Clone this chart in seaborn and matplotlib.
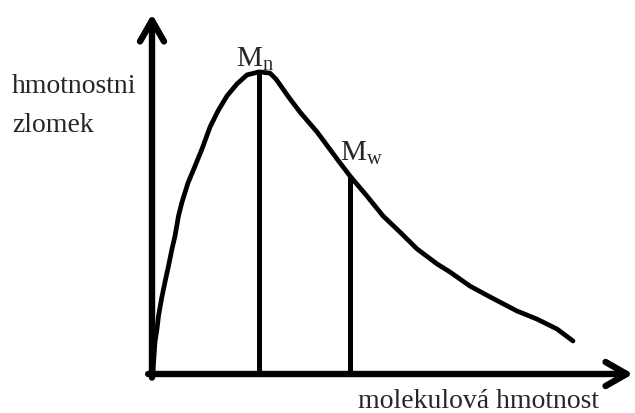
import matplotlib
matplotlib.use("Agg")
import matplotlib.pyplot as plt
import seaborn as sns
import pandas as pd

# Molecular weight distribution (arbitrary units)
mass = [0.2, 0.6, 1.0, 1.3, 1.9, 2.6, 3.3, 4.0, 4.6, 5.3, 6.0, 7.2, 8.6, 10.0,
        11.6, 13.2, 15.0, 17.0, 19.0, 21.4, 23.6, 24.8, 26.2, 27.6, 29.6, 33.0,
        37.0, 39.6, 43.0, 46.2, 49.6, 53.0, 57.0, 59.6, 63.6, 67.6, 73.0, 77.0,
        81.0, 84.2]
fraction = [1.0, 10.7, 15.0, 19.3, 25.0, 30.7, 36.0, 41.7, 46.0, 52.7, 57.3, 63.7,
            69.3, 75.0, 82.3, 87.7, 92.7, 96.7, 99.7, 100.7, 100.3, 98.3, 95.0,
            91.7, 87.3, 80.7, 71.7, 66.0, 59.3, 52.7, 47.3, 41.7, 36.7, 34.0,
            29.3, 25.7, 21.0, 18.3, 15.0, 11.0]

# Number-average and weight-average molecular mass
mn_mass, mn_fraction = 21.4, 100.7
mw_mass, mw_fraction = 39.6, 66.0

y_label = ["hmotnostni", "zlomek"]
x_label = "molekulová hmotnost"

sns.set_style("white")
plt.rcParams["font.family"] = ["Liberation Serif", "DejaVu Serif"]
plt.rcParams["mathtext.fontset"] = "custom"
plt.rcParams["mathtext.rm"] = "Liberation Serif"

W, H = 635, 414
fig = plt.figure(figsize=(W / 100, H / 100), dpi=100)
ox, oy = 152, 375            # origin in pixels
right, top = 633, 15
ax = fig.add_axes([ox / W, (H - oy) / H, (right - ox) / W, (oy - top) / H])
ax.set_xlim(0, (right - ox) / 5)
ax.set_ylim(0, (oy - top) / 3)
ax.set_axis_off()

df = pd.DataFrame({"mass": mass, "fraction": fraction})
sns.lineplot(data=df, x="mass", y="fraction", ax=ax, color="black",
             lw=3.4, sort=False, solid_joinstyle="round", solid_capstyle="round")

ax.vlines([mn_mass, mw_mass], 0, [mn_fraction, mw_fraction],
          color="black", lw=3.6)

# Axes with arrow heads
arrow = dict(arrowstyle="->, head_length=0.42, head_width=0.24",
             lw=4.6, color="black", mutation_scale=36, shrinkA=0, shrinkB=0)
ax.annotate("", xy=(0, 1), xytext=(0, -0.01), xycoords="axes fraction",
            arrowprops=arrow, annotation_clip=False)
ax.annotate("", xy=(1, 0), xytext=(-0.008, 0), xycoords="axes fraction",
            arrowprops=arrow, annotation_clip=False)

ax.annotate(r"$\mathrm{M_n}$", xy=(mn_mass, mn_fraction), xytext=(-3, 4.5),
            textcoords="offset points", ha="center", va="baseline", fontsize=21)
ax.annotate(r"$\mathrm{M_w}$", xy=(mw_mass, mw_fraction), xytext=(-7, 12),
            textcoords="offset points", ha="left", va="baseline", fontsize=21)

fig.text(12 / W, 1 - 93 / H, y_label[0], fontsize=20, va="baseline", ha="left")
fig.text(12 / W, 1 - 132 / H, y_label[1], fontsize=20, va="baseline", ha="left")
fig.text(358 / W, 1 - 408 / H, x_label, fontsize=20, va="baseline", ha="left")

fig.savefig("out.png", dpi=100, facecolor="white")
